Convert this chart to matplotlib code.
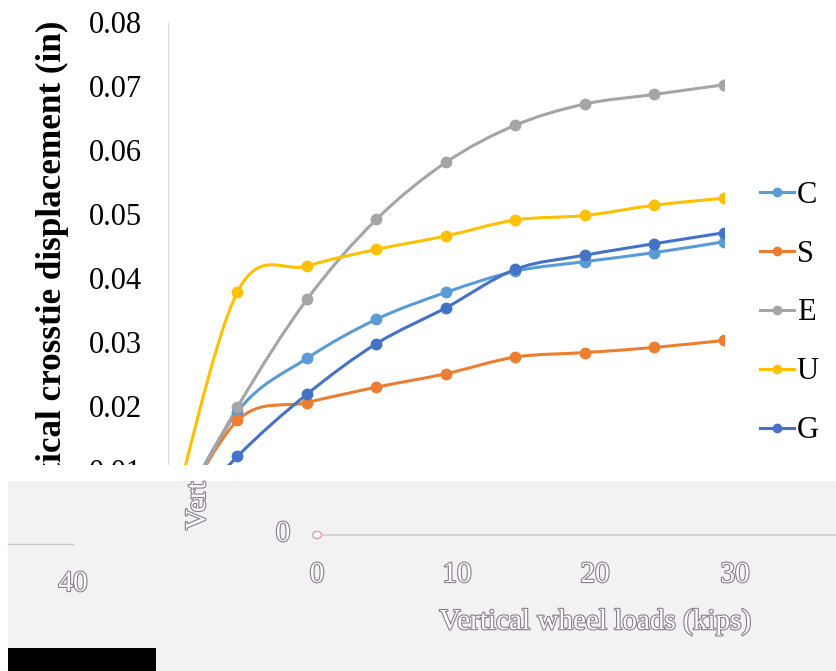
import numpy as np
import matplotlib
matplotlib.use('Agg')
import matplotlib.pyplot as plt
from matplotlib.path import Path
from matplotlib.patches import PathPatch, Rectangle, Circle
from matplotlib.lines import Line2D
import matplotlib.patheffects as pe

plt.rcParams['font.family'] = ['Liberation Serif', 'DejaVu Serif']

# vertical wheel load (kips)
loads = [0, 5, 10, 15, 20, 25, 30, 35, 40]
# vertical crosstie displacement (in)
C = [0, 0.0192, 0.0275, 0.0336, 0.0378, 0.0411, 0.0426, 0.0440, 0.0457]
S = [0, 0.0178, 0.0206, 0.0230, 0.0251, 0.0277, 0.0284, 0.0292, 0.0303]
E = [0, 0.0199, 0.0367, 0.0492, 0.0581, 0.0639, 0.0672, 0.0687, 0.0702]
U = [0, 0.0379, 0.0419, 0.0445, 0.0466, 0.0491, 0.0498, 0.0514, 0.0525]
G = [0, 0.0122, 0.0219, 0.0298, 0.0354, 0.0414, 0.0436, 0.0454, 0.0471]
names = ['C', 'S', 'E', 'U', 'G']
colors = ['#5B9BD5', '#ED7D31', '#A5A5A5', '#FFC000', '#4472C4']
yticks = [0, 0.01, 0.02, 0.03, 0.04, 0.05, 0.06, 0.07, 0.08]
xticks = [0, 10, 20, 30, 40]

W, H = 837, 671
fig = plt.figure(figsize=(W / 100, H / 100), dpi=100)
ax = fig.add_axes([168 / W, 1 - 534.5 / H, (724 - 168) / W, (534.5 - 22) / H])


def smooth_path(x, y):
    # excel-style smoothed line: cubic bezier through each point
    pts = np.column_stack([x, y]).astype(float)
    n = len(pts)
    verts = [pts[0]]
    codes = [Path.MOVETO]
    for i in range(n - 1):
        p0 = pts[max(i - 1, 0)]
        p1 = pts[i]
        p2 = pts[i + 1]
        p3 = pts[min(i + 2, n - 1)]
        verts += [p1 + (p2 - p0) / 6, p2 - (p3 - p1) / 6, p2]
        codes += [Path.CURVE4] * 3
    return Path(verts, codes)


for name, ys, c in zip(names, [C, S, E, U, G], colors):
    ax.add_patch(PathPatch(smooth_path(loads, ys), fill=False, edgecolor=c,
                           lw=2.2, capstyle='round'))
    ax.plot(loads, ys, 'o', color=c, ms=7.5, ls='none')

ax.set_xlim(0, 40)
ax.set_ylim(0, 0.08)
ax.set_yticks(yticks)
ax.set_yticklabels(['0' if v == 0 else '%.2f' % v for v in yticks])
ax.set_xticks(xticks)
ax.tick_params(length=0, labelsize=22, pad=19)
ax.tick_params(axis='x', labelbottom=False)  # covered by the broken band
for s in ['top', 'right', 'bottom']:
    ax.spines[s].set_visible(False)
ax.spines['left'].set_color('#d9d9d9')

fig.text(52 / W, 1 - 274 / H, 'Vertical crosstie displacement (in)', rotation=90,
         ha='center', va='center', fontsize=25.3, fontweight='bold')

handles = [Line2D([], [], color=c, lw=2.2, marker='o', ms=6) for c in colors]
fig.legend(handles, names, loc='center left', bbox_to_anchor=(760 / W, 1 - 313 / H),
           bbox_transform=fig.transFigure, frameon=False, fontsize=22,
           handlelength=1.1, handletextpad=0.1, labelspacing=0.98,
           borderpad=0, borderaxespad=0)

# broken lower band of the picture
fig.add_artist(Rectangle((8 / W, 0), 1, 1 - 465 / H, transform=fig.transFigure,
                         facecolor='white', edgecolor='none', zorder=10))
fig.add_artist(Rectangle((8 / W, 0), 1, 1 - 481 / H, transform=fig.transFigure,
                         facecolor='#f2f2f2', edgecolor='none', zorder=11))
fig.add_artist(Rectangle((8 / W, 0), 148 / W, 23 / H, transform=fig.transFigure,
                         facecolor='black', edgecolor='none', zorder=12))
fig.add_artist(Line2D([317 / W, 1], [1 - 535 / H] * 2, transform=fig.transFigure,
                      color='#d4d4d4', lw=1.5, zorder=12))
fig.add_artist(Line2D([8 / W, 73 / W], [1 - 544 / H] * 2, transform=fig.transFigure,
                      color='#c8c8c8', lw=1, zorder=12))
fig.add_artist(Circle((317 / W, 1 - 535 / H), 4.5 / W, transform=fig.transFigure,
                      facecolor='white', edgecolor='#d9a0b4', lw=1, zorder=13))

ghost = [pe.withStroke(linewidth=1.6, foreground='#8a7a8e')]
band_texts = [('40', 73, 584), ('0', 317, 575), ('10', 457, 575), ('20', 595, 575),
              ('30', 735, 575), ('0', 283, 534)]
for t, px, py in band_texts:
    fig.text(px / W, 1 - py / H, t, ha='center', va='center', fontsize=21,
             color='white', path_effects=ghost, zorder=14)
fig.text(595 / W, 1 - 622 / H, 'Vertical wheel loads (kips)', ha='center', va='center',
         fontsize=21, color='white', path_effects=ghost, zorder=14)
fig.text(198 / W, 1 - 530 / H, 'Vert', rotation=90, ha='center', va='bottom',
         fontsize=21, color='white', path_effects=ghost, zorder=14)

fig.savefig('out.png', dpi=100)
